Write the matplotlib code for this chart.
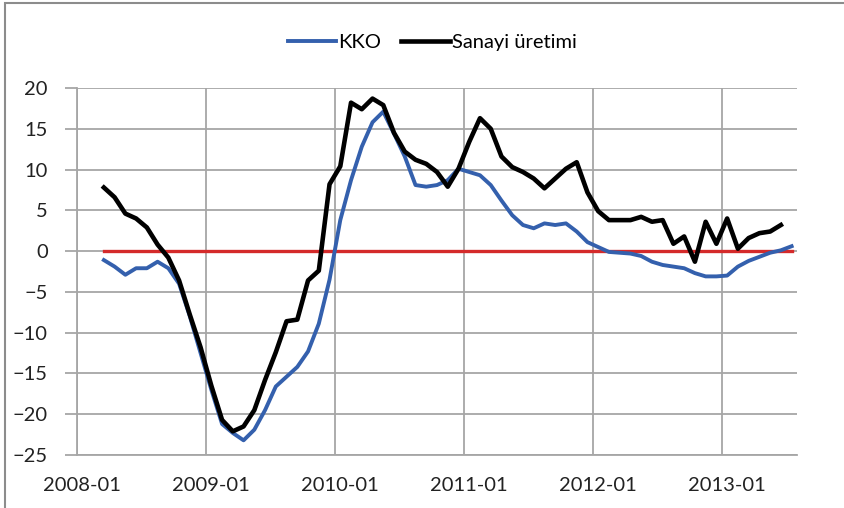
import numpy as np
import matplotlib.pyplot as plt
from matplotlib.patches import Rectangle

plt.rcParams['font.family'] = ['Lato', 'DejaVu Sans']

# months counted from 2008-01 (index 0); series start at 2008-03
start_month = 2
kko = [-1.1, -1.9, -2.9, -2.1, -2.1, -1.3, -2.1, -4.0, -8.0, -12.5,
       -17.0, -21.2, -22.3, -23.2, -21.9, -19.5, -16.6, -15.4, -14.2, -12.3,
       -8.9, -3.5, 3.8, 8.7, 12.8, 15.8, 17.1, 14.4, 11.6, 8.1,
       7.9, 8.1, 8.7, 10.1, 9.7, 9.3, 8.1, 6.2, 4.4, 3.2,
       2.8, 3.4, 3.2, 3.4, 2.4, 1.1, 0.5, -0.1, -0.2, -0.3,
       -0.6, -1.3, -1.7, -1.9, -2.1, -2.7, -3.1, -3.1, -3.0, -1.9,
       -1.2, -0.7, -0.2, 0.1, 0.6]
sanayi = [7.8, 6.6, 4.6, 4.0, 2.9, 0.8, -0.8, -3.6, -7.8, -11.8,
          -16.5, -20.7, -22.1, -21.5, -19.5, -15.8, -12.4, -8.6, -8.4, -3.6,
          -2.4, 8.2, 10.4, 18.2, 17.4, 18.7, 17.9, 14.5, 12.2, 11.2,
          10.7, 9.7, 7.9, 10.1, 13.4, 16.3, 15.0, 11.6, 10.3, 9.7,
          8.9, 7.7, 8.9, 10.1, 10.9, 7.2, 4.9, 3.8, 3.8, 3.8,
          4.2, 3.6, 3.8, 0.9, 1.8, -1.3, 3.6, 0.9, 4.0, 0.3,
          1.6, 2.2, 2.4, 3.2]
n_slots = 67  # 2008-01 .. 2013-07
year_labels = ['2008-01', '2009-01', '2010-01', '2011-01', '2012-01', '2013-01']
y_ticks = [-25, -20, -15, -10, -5, 0, 5, 10, 15, 20]

x_kko = np.arange(start_month, start_month + len(kko)) + 0.5
x_san = np.arange(start_month, start_month + len(sanayi)) + 0.5
zero_line = [0] * len(kko)

fig = plt.figure(figsize=(8.44, 5.08), dpi=100)
ax = fig.add_axes([77/844, 1 - 455/508, 720/844, 367/508])

grid_c = '#a6a6a6'
ax.plot(x_kko, zero_line, color='#d42a2a', lw=2.4, zorder=3)
ax.plot(x_kko, kko, color='#3460ad', lw=2.8, label='KKO', zorder=4)
ax.plot(x_san, sanayi, color='black', lw=3.3, label='Sanayi üretimi', zorder=5)

ax.set_xlim(0, n_slots)
ax.set_ylim(-25, 20)
ax.set_yticks(y_ticks)
ax.set_xticks(np.arange(0, 61, 12))
ax.set_xticklabels([])
ax.set_xticks(np.arange(0, 61, 12) + 0.5, minor=True)
ax.set_xticklabels(year_labels, minor=True)
ax.tick_params(axis='x', which='both', length=0, labelsize=14.5, pad=16, colors='#222222')
ax.tick_params(axis='y', length=9, width=1.3, color=grid_c, labelsize=14.5, pad=12, labelcolor='#222222')
ax.grid(True, which='major', color=grid_c, lw=1.3)
for s in ['top', 'right']:
    ax.spines[s].set_visible(False)
for s in ['left', 'bottom']:
    ax.spines[s].set_color(grid_c)
    ax.spines[s].set_linewidth(1.3)

fig.legend(loc='center', bbox_to_anchor=(0.512, 0.917), ncol=2, frameon=False,
           fontsize=14.5, handlelength=2.4, handletextpad=0.1, columnspacing=1.0)

fig.patches.append(Rectangle((5/844, -0.05), 1.1, 1 - 3/508 + 0.05, transform=fig.transFigure,
                             fill=False, edgecolor='#8c8c8c', lw=1.5))

plt.savefig('out.png', dpi=100)
